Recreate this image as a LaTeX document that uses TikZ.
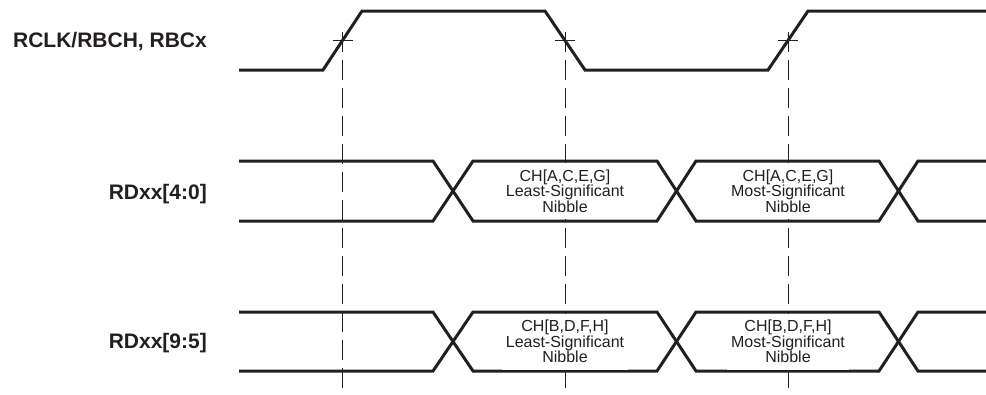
\documentclass[tikz,border=0pt]{standalone}
\usepackage{fontspec}
\setmainfont{Liberation Sans}
\usepackage{tikz}
\usepackage{xcolor}
\usetikzlibrary{calc}
\definecolor{ink}{RGB}{35,31,32}

\tikzset{
  wave/.style={ink, line width=3pt, line join=miter},
  guide/.style={ink, line width=0.9pt, dash pattern=on 20pt off 8pt},
  siglabel/.style={anchor=base east, inner sep=0pt, text=ink, font=\bfseries\fontsize{21}{25}\selectfont},
  nibble/.style={align=center, inner xsep=4pt, inner ysep=0pt, minimum height=56pt, fill=white, text=ink, font=\fontsize{16}{15.6}\selectfont}
}

\begin{document}
\begin{tikzpicture}[x=1pt,y=-1pt]
\useasboundingbox (0,0) rectangle (986,394);

% signal names
\node[siglabel] (clk) at (207,47) {RCLK/RBCH, RBCx};
\node[siglabel] (lsbus) at (207,199) {RDxx[4:0]};
\node[siglabel] (msbus) at (207,348) {RDxx[9:5]};

% clock
\draw[wave] (239,70) -- (323,70) -- (362,11) -- (545,11) -- (585,70) -- (768,70) -- (808,11) -- (986,11);

% sampling points on the clock edges
\coordinate (s1) at (342.5,40.5);
\coordinate (s2) at (565,40.5);
\coordinate (s3) at (788,40.5);
\foreach \s in {s1,s2,s3} {
  \draw[ink, line width=0.9pt] ($(\s)+(-10,0)$) -- ($(\s)+(10,0)$);
  \draw[guide] ($(\s)+(0,-9)$) -- ($(\s)+(0,352)$);
}

% data buses
\foreach \t/\b in {161/221, 312/371} {
  \draw[wave] (239,\t) -- (433,\t) -- (473,\b) -- (657,\b) -- (696,\t) -- (879,\t) -- (918,\b) -- (986,\b);
  \draw[wave] (239,\b) -- (433,\b) -- (473,\t) -- (657,\t) -- (696,\b) -- (879,\b) -- (918,\t) -- (986,\t);
}

\node[nibble] (lsb1) at (565,191) {CH[A,C,E,G]\\Least-Significant\\Nibble};
\node[nibble] (msb1) at (788,191) {CH[A,C,E,G]\\Most-Significant\\Nibble};
\node[nibble] (lsb2) at (565,341.5) {CH[B,D,F,H]\\Least-Significant\\Nibble};
\node[nibble] (msb2) at (788,341.5) {CH[B,D,F,H]\\Most-Significant\\Nibble};

\end{tikzpicture}
\end{document}
